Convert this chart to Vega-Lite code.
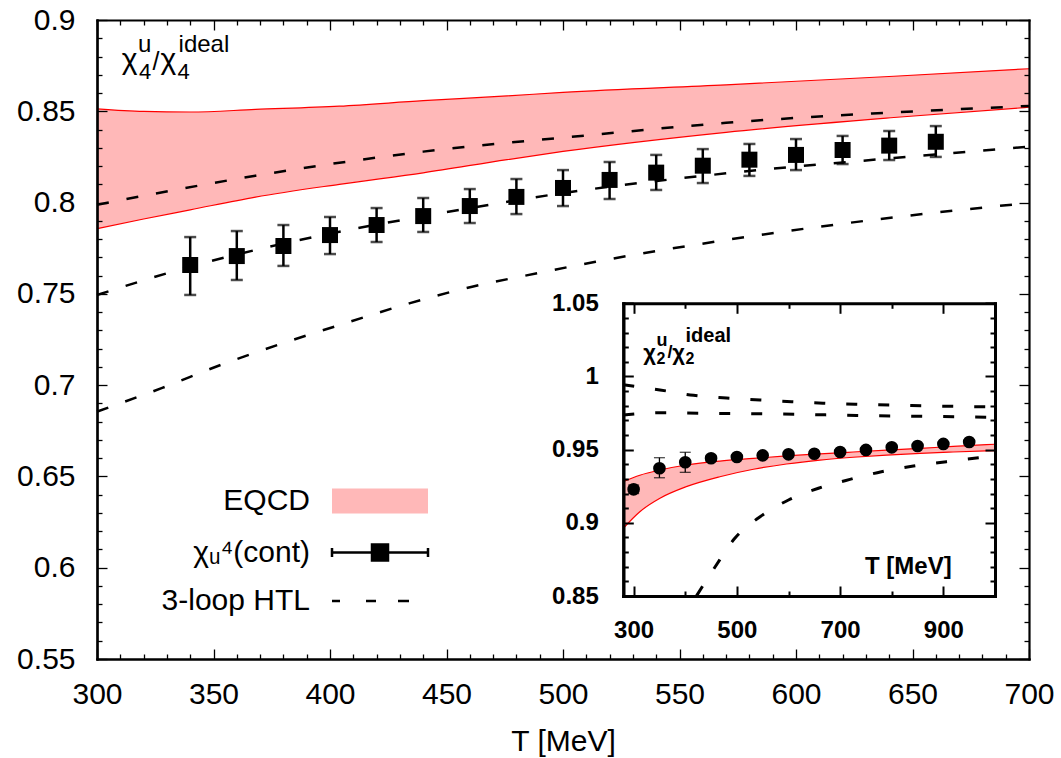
{
  "$schema": "https://vega.github.io/schema/vega-lite/v6.json",
  "width": 932,
  "height": 639,
  "autosize": {"type": "none"},
  "padding": {"left": 97, "top": 20, "right": 32, "bottom": 99},
  "background": "white",
  "config": {"view": {"stroke": null}, "font": "Liberation Sans"},
  "datasets": {
    "eqcd4": [
      {"T": 300, "lo": 0.7857, "hi": 0.8513, "series": "EQCD"},
      {"T": 320, "lo": 0.7910, "hi": 0.8499, "series": "EQCD"},
      {"T": 340, "lo": 0.7960, "hi": 0.8496, "series": "EQCD"},
      {"T": 368, "lo": 0.8030, "hi": 0.8510, "series": "EQCD"},
      {"T": 404, "lo": 0.8100, "hi": 0.8528, "series": "EQCD"},
      {"T": 440, "lo": 0.8163, "hi": 0.8558, "series": "EQCD"},
      {"T": 476, "lo": 0.8235, "hi": 0.8584, "series": "EQCD"},
      {"T": 500, "lo": 0.8280, "hi": 0.8604, "series": "EQCD"},
      {"T": 570, "lo": 0.8385, "hi": 0.8645, "series": "EQCD"},
      {"T": 642, "lo": 0.8466, "hi": 0.8692, "series": "EQCD"},
      {"T": 700, "lo": 0.8522, "hi": 0.8733, "series": "EQCD"}
    ],
    "htl4": [
      {"T": 300, "v": 0.7988, "curve": "a"},
      {"T": 333, "v": 0.8068, "curve": "a"},
      {"T": 368, "v": 0.8147, "curve": "a"},
      {"T": 440, "v": 0.8279, "curve": "a"},
      {"T": 512, "v": 0.8370, "curve": "a"},
      {"T": 570, "v": 0.8437, "curve": "a"},
      {"T": 642, "v": 0.8494, "curve": "a"},
      {"T": 700, "v": 0.8529, "curve": "a"},
      {"T": 300, "v": 0.7494, "curve": "b"},
      {"T": 340, "v": 0.7649, "curve": "b"},
      {"T": 400, "v": 0.7830, "curve": "b"},
      {"T": 440, "v": 0.7925, "curve": "b"},
      {"T": 500, "v": 0.8052, "curve": "b"},
      {"T": 570, "v": 0.8160, "curve": "b"},
      {"T": 642, "v": 0.8244, "curve": "b"},
      {"T": 700, "v": 0.8306, "curve": "b"},
      {"T": 300, "v": 0.6855, "curve": "c"},
      {"T": 328, "v": 0.6985, "curve": "c"},
      {"T": 354, "v": 0.7115, "curve": "c"},
      {"T": 381, "v": 0.7235, "curve": "c"},
      {"T": 408, "v": 0.7345, "curve": "c"},
      {"T": 434, "v": 0.7448, "curve": "c"},
      {"T": 461, "v": 0.7539, "curve": "c"},
      {"T": 489, "v": 0.7613, "curve": "c"},
      {"T": 514, "v": 0.7676, "curve": "c"},
      {"T": 570, "v": 0.7795, "curve": "c"},
      {"T": 642, "v": 0.7919, "curve": "c"},
      {"T": 700, "v": 0.7998, "curve": "c"}
    ],
    "chi4": [
      {"T": 340, "v": 0.7658, "lo": 0.7494, "hi": 0.7811, "series": "χᵤ⁴(cont)"},
      {"T": 360, "v": 0.7707, "lo": 0.7576, "hi": 0.7844, "series": "χᵤ⁴(cont)"},
      {"T": 380, "v": 0.7762, "lo": 0.7653, "hi": 0.7877, "series": "χᵤ⁴(cont)"},
      {"T": 400, "v": 0.7822, "lo": 0.7718, "hi": 0.7921, "series": "χᵤ⁴(cont)"},
      {"T": 420, "v": 0.7877, "lo": 0.7784, "hi": 0.7970, "series": "χᵤ⁴(cont)"},
      {"T": 440, "v": 0.7926, "lo": 0.7839, "hi": 0.8025, "series": "χᵤ⁴(cont)"},
      {"T": 460, "v": 0.7981, "lo": 0.7888, "hi": 0.8074, "series": "χᵤ⁴(cont)"},
      {"T": 480, "v": 0.8031, "lo": 0.7937, "hi": 0.8129, "series": "χᵤ⁴(cont)"},
      {"T": 500, "v": 0.8080, "lo": 0.7981, "hi": 0.8178, "series": "χᵤ⁴(cont)"},
      {"T": 520, "v": 0.8124, "lo": 0.8020, "hi": 0.8222, "series": "χᵤ⁴(cont)"},
      {"T": 540, "v": 0.8164, "lo": 0.8069, "hi": 0.8261, "series": "χᵤ⁴(cont)"},
      {"T": 560, "v": 0.8202, "lo": 0.8107, "hi": 0.8293, "series": "χᵤ⁴(cont)"},
      {"T": 580, "v": 0.8235, "lo": 0.8146, "hi": 0.8321, "series": "χᵤ⁴(cont)"},
      {"T": 600, "v": 0.8261, "lo": 0.8178, "hi": 0.8348, "series": "χᵤ⁴(cont)"},
      {"T": 620, "v": 0.8288, "lo": 0.8211, "hi": 0.8365, "series": "χᵤ⁴(cont)"},
      {"T": 640, "v": 0.8312, "lo": 0.8233, "hi": 0.8392, "series": "χᵤ⁴(cont)"},
      {"T": 660, "v": 0.8333, "lo": 0.8250, "hi": 0.8419, "series": "χᵤ⁴(cont)"}
    ],
    "eqcd2": [
      {"T": 280, "lo": 0.8963, "hi": 0.9281},
      {"T": 312, "lo": 0.9076, "hi": 0.9325},
      {"T": 351, "lo": 0.9168, "hi": 0.9361},
      {"T": 402, "lo": 0.9247, "hi": 0.9395},
      {"T": 467, "lo": 0.9315, "hi": 0.9422},
      {"T": 532, "lo": 0.9366, "hi": 0.9440},
      {"T": 596, "lo": 0.9402, "hi": 0.9457},
      {"T": 661, "lo": 0.9429, "hi": 0.9471},
      {"T": 725, "lo": 0.9448, "hi": 0.9484},
      {"T": 790, "lo": 0.9463, "hi": 0.9497},
      {"T": 855, "lo": 0.9475, "hi": 0.9509},
      {"T": 919, "lo": 0.9484, "hi": 0.9522},
      {"T": 1000, "lo": 0.9493, "hi": 0.9537}
    ],
    "htl2": [
      {"T": 280, "v": 0.9943, "curve": "a"},
      {"T": 351, "v": 0.9908, "curve": "a"},
      {"T": 416, "v": 0.9871, "curve": "a"},
      {"T": 480, "v": 0.9853, "curve": "a"},
      {"T": 545, "v": 0.9839, "curve": "a"},
      {"T": 606, "v": 0.9828, "curve": "a"},
      {"T": 667, "v": 0.9817, "curve": "a"},
      {"T": 732, "v": 0.9810, "curve": "a"},
      {"T": 800, "v": 0.9804, "curve": "a"},
      {"T": 900, "v": 0.9797, "curve": "a"},
      {"T": 1000, "v": 0.9792, "curve": "a"},
      {"T": 280, "v": 0.9736, "curve": "b"},
      {"T": 351, "v": 0.9752, "curve": "b"},
      {"T": 450, "v": 0.9748, "curve": "b"},
      {"T": 543, "v": 0.9745, "curve": "b"},
      {"T": 640, "v": 0.9740, "curve": "b"},
      {"T": 732, "v": 0.9733, "curve": "b"},
      {"T": 850, "v": 0.9728, "curve": "b"},
      {"T": 1000, "v": 0.9721, "curve": "b"},
      {"T": 422, "v": 0.8502, "curve": "c"},
      {"T": 458, "v": 0.8700, "curve": "c"},
      {"T": 496, "v": 0.8894, "curve": "c"},
      {"T": 545, "v": 0.9042, "curve": "c"},
      {"T": 600, "v": 0.9156, "curve": "c"},
      {"T": 658, "v": 0.9236, "curve": "c"},
      {"T": 719, "v": 0.9297, "curve": "c"},
      {"T": 780, "v": 0.9349, "curve": "c"},
      {"T": 842, "v": 0.9388, "curve": "c"},
      {"T": 906, "v": 0.9418, "curve": "c"},
      {"T": 968, "v": 0.9445, "curve": "c"},
      {"T": 1000, "v": 0.9457, "curve": "c"}
    ],
    "chi2": [
      {"T": 300, "v": 0.9229, "lo": 0.9200, "hi": 0.9258},
      {"T": 350, "v": 0.9373, "lo": 0.9308, "hi": 0.9445},
      {"T": 400, "v": 0.9414, "lo": 0.9345, "hi": 0.9482},
      {"T": 450, "v": 0.9441, "lo": 0.9421, "hi": 0.9461},
      {"T": 500, "v": 0.9450, "lo": 0.9435, "hi": 0.9465},
      {"T": 550, "v": 0.9461, "lo": 0.9446, "hi": 0.9476},
      {"T": 600, "v": 0.9468, "lo": 0.9453, "hi": 0.9483},
      {"T": 650, "v": 0.9472, "lo": 0.9457, "hi": 0.9487},
      {"T": 700, "v": 0.9484, "lo": 0.9469, "hi": 0.9499},
      {"T": 750, "v": 0.9498, "lo": 0.9483, "hi": 0.9513},
      {"T": 800, "v": 0.9516, "lo": 0.9501, "hi": 0.9531},
      {"T": 850, "v": 0.9525, "lo": 0.9510, "hi": 0.9540},
      {"T": 900, "v": 0.9539, "lo": 0.9524, "hi": 0.9554},
      {"T": 950, "v": 0.9552, "lo": 0.9537, "hi": 0.9567}
    ]
  },
  "layer": [
    {
      "data": {"name": "eqcd4"},
      "mark": {"type": "area", "interpolate": "monotone", "fillOpacity": 1},
      "encoding": {
        "x": {
          "field": "T", "type": "quantitative",
          "scale": {"domain": [300, 700], "range": [0, 932], "nice": false, "zero": false},
          "axis": {
            "orient": "bottom",
            "values": [300, 350, 400, 450, 500, 550, 600, 650, 700],
            "format": "d",
            "labelFont": "Liberation Sans", "labelFontSize": 30, "labelColor": "black",
            "labelPadding": 20, "labelOverlap": false, "labelFlush": false, "labelBound": false,
            "ticks": false,
            "domainColor": "black", "domainWidth": 2.2, "domainCap": "square",
            "grid": false,
            "title": "T [MeV]", "titleFont": "Liberation Sans", "titleFontSize": 30, "titleFontWeight": "normal", "titleColor": "black", "titlePadding": 17,
            "zindex": 1
          }
        },
        "y": {
          "field": "lo", "type": "quantitative",
          "scale": {"domain": [0.55, 0.9], "range": [639, 0], "nice": false, "zero": false},
          "axis": {
            "orient": "left",
            "values": [0.55, 0.6, 0.65, 0.7, 0.75, 0.8, 0.85, 0.9],
            "format": ".2~f",
            "labelFont": "Liberation Sans", "labelFontSize": 30, "labelColor": "black",
            "labelPadding": 22, "labelOverlap": false, "labelFlush": false, "labelBound": false,
            "ticks": false,
            "domainColor": "black", "domainWidth": 2.2, "domainCap": "square",
            "grid": false, "title": null, "zindex": 1
          }
        },
        "y2": {"field": "hi"},
        "fill": {
          "field": "series", "type": "nominal",
          "scale": {"domain": ["EQCD", "χᵤ⁴(cont)", "3-loop HTL"], "range": ["#ffb8b8", "black", "black"]},
          "legend": {
            "orient": "none", "legendX": 268, "legendY": 466, "title": null,
            "direction": "vertical", "padding": 0,
            "labelFont": "Liberation Sans", "labelFontSize": 30, "labelColor": "black",
            "labelAlign": "right", "labelOffset": -85, "labelLimit": 0,
            "symbolSize": 400, "symbolStrokeWidth": 2.5, "rowPadding": 18.5,
            "encode": {
              "symbols": {
                "update": {
                  "shape": {"signal": "datum.value === 'EQCD' ? 'M-4.8,-1.25H4.8V1.25H-4.8Z' : datum.value === '3-loop HTL' ? 'M-4.8,0H-4.0M-1.4,0H-0.4M1.8,0H2.9' : 'M-4.8,-0.45V0.45M-4.8,0H4.8M4.8,-0.45V0.45M-0.8,-0.8H0.8V0.8H-0.8Z'"},
                  "fill": {"signal": "datum.value === 'EQCD' ? '#ffb8b8' : datum.value === '3-loop HTL' ? 'transparent' : 'black'"},
                  "stroke": {"signal": "datum.value === 'EQCD' ? 'transparent' : 'black'"},
                  "strokeWidth": {"value": 2.5},
                  "opacity": {"value": 1}
                }
              }
            }
          }
        }
      }
    },
    {
      "data": {"name": "eqcd4"},
      "mark": {"type": "line", "color": "#ff0000", "strokeWidth": 1.2, "interpolate": "monotone"},
      "encoding": {
        "x": {"field": "T", "type": "quantitative", "scale": {"domain": [300, 700], "range": [0, 932], "nice": false, "zero": false}, "axis": null},
        "y": {"field": "hi", "type": "quantitative", "scale": {"domain": [0.55, 0.9], "range": [639, 0], "nice": false, "zero": false}, "axis": null}
      }
    },
    {
      "data": {"name": "eqcd4"},
      "mark": {"type": "line", "color": "#ff0000", "strokeWidth": 1.2, "interpolate": "monotone"},
      "encoding": {
        "x": {"field": "T", "type": "quantitative", "scale": {"domain": [300, 700], "range": [0, 932], "nice": false, "zero": false}, "axis": null},
        "y": {"field": "lo", "type": "quantitative", "scale": {"domain": [0.55, 0.9], "range": [639, 0], "nice": false, "zero": false}, "axis": null}
      }
    },
    {
      "data": {"name": "htl4"},
      "mark": {"type": "line", "color": "black", "strokeWidth": 2.5, "strokeDash": [12, 18], "interpolate": "monotone"},
      "encoding": {
        "x": {"field": "T", "type": "quantitative", "scale": {"domain": [300, 700], "range": [0, 932], "nice": false, "zero": false}, "axis": null},
        "y": {"field": "v", "type": "quantitative", "scale": {"domain": [0.55, 0.9], "range": [639, 0], "nice": false, "zero": false}, "axis": null},
        "detail": {"field": "curve", "type": "nominal"}
      }
    },
    {
      "data": {"name": "chi4"},
      "mark": {"type": "rule", "color": "black", "strokeWidth": 2.5},
      "encoding": {
        "x": {"field": "T", "type": "quantitative", "scale": {"domain": [300, 700], "range": [0, 932], "nice": false, "zero": false}, "axis": null},
        "y": {"field": "lo", "type": "quantitative", "scale": {"domain": [0.55, 0.9], "range": [639, 0], "nice": false, "zero": false}, "axis": null},
        "y2": {"field": "hi"}
      }
    },
    {
      "data": {"name": "chi4"},
      "mark": {"type": "tick", "orient": "horizontal", "color": "black", "size": 12, "thickness": 2.5},
      "encoding": {
        "x": {"field": "T", "type": "quantitative", "scale": {"domain": [300, 700], "range": [0, 932], "nice": false, "zero": false}, "axis": null},
        "y": {"field": "lo", "type": "quantitative", "scale": {"domain": [0.55, 0.9], "range": [639, 0], "nice": false, "zero": false}, "axis": null}
      }
    },
    {
      "data": {"name": "chi4"},
      "mark": {"type": "tick", "orient": "horizontal", "color": "black", "size": 12, "thickness": 2.5},
      "encoding": {
        "x": {"field": "T", "type": "quantitative", "scale": {"domain": [300, 700], "range": [0, 932], "nice": false, "zero": false}, "axis": null},
        "y": {"field": "hi", "type": "quantitative", "scale": {"domain": [0.55, 0.9], "range": [639, 0], "nice": false, "zero": false}, "axis": null}
      }
    },
    {
      "data": {"name": "chi4"},
      "mark": {"type": "point", "shape": "square", "size": 256, "filled": true, "opacity": 1, "strokeWidth": 0},
      "encoding": {
        "x": {"field": "T", "type": "quantitative", "scale": {"domain": [300, 700], "range": [0, 932], "nice": false, "zero": false}, "axis": null},
        "y": {"field": "v", "type": "quantitative", "scale": {"domain": [0.55, 0.9], "range": [639, 0], "nice": false, "zero": false}, "axis": null},
        "fill": {"field": "series", "type": "nominal", "legend": null}
      }
    },
    {
      "data": {"name": "chi4"},
      "mark": {"type": "point", "opacity": 0},
      "encoding": {
        "x": {
          "field": "T", "type": "quantitative",
          "scale": {"domain": [300, 700], "range": [0, 932], "nice": false, "zero": false},
          "axis": {
            "orient": "top", "offset": -639,
            "values": [300,310,320,330,340,350,360,370,380,390,400,410,420,430,440,450,460,470,480,490,500,510,520,530,540,550,560,570,580,590,600,610,620,630,640,650,660,670,680,690,700],
            "labels": false,
            "tickSize": 10, "tickWidth": 1.3, "tickColor": "black",
            "tickDash": {"condition": {"test": "datum.value % 50 === 0", "value": []}, "value": [5, 20]},
            "domainColor": "black", "domainWidth": 2.2, "domainCap": "square",
            "grid": false, "title": null, "zindex": 1
          }
        },
        "y": {
          "field": "v", "type": "quantitative",
          "scale": {"domain": [0.55, 0.9], "range": [639, 0], "nice": false, "zero": false},
          "axis": {
            "orient": "right", "offset": -932,
            "values": [0.55,0.56,0.57,0.58,0.59,0.6,0.61,0.62,0.63,0.64,0.65,0.66,0.67,0.68,0.69,0.7,0.71,0.72,0.73,0.74,0.75,0.76,0.77,0.78,0.79,0.8,0.81,0.82,0.83,0.84,0.85,0.86,0.87,0.88,0.89,0.9],
            "labels": false,
            "tickSize": 10, "tickWidth": 1.3, "tickColor": "black",
            "tickDash": {"condition": {"test": "abs(datum.value*20 - round(datum.value*20)) < 0.001", "value": []}, "value": [5, 20]},
            "domainColor": "black", "domainWidth": 2.2, "domainCap": "square",
            "grid": false, "title": null, "zindex": 1
          }
        }
      }
    },
    {
      "data": {"name": "chi4"},
      "mark": {"type": "point", "opacity": 0},
      "encoding": {
        "x": {
          "field": "T", "type": "quantitative",
          "scale": {"domain": [300, 700], "range": [0, 932], "nice": false, "zero": false},
          "axis": {
            "orient": "top",
            "values": [300,310,320,330,340,350,360,370,380,390,400,410,420,430,440,450,460,470,480,490,500,510,520,530,540,550,560,570,580,590,600,610,620,630,640,650,660,670,680,690,700],
            "labels": false,
            "tickSize": -10, "tickWidth": 1.3, "tickColor": "black",
            "tickDash": {"condition": {"test": "datum.value % 50 === 0", "value": []}, "value": [5, 20]},
            "domainColor": "black", "domainWidth": 2.2, "domainCap": "square",
            "grid": false, "title": null, "zindex": 1
          }
        },
        "y": {
          "field": "v", "type": "quantitative",
          "scale": {"domain": [0.55, 0.9], "range": [639, 0], "nice": false, "zero": false},
          "axis": {
            "orient": "right",
            "values": [0.55,0.56,0.57,0.58,0.59,0.6,0.61,0.62,0.63,0.64,0.65,0.66,0.67,0.68,0.69,0.7,0.71,0.72,0.73,0.74,0.75,0.76,0.77,0.78,0.79,0.8,0.81,0.82,0.83,0.84,0.85,0.86,0.87,0.88,0.89,0.9],
            "labels": false,
            "tickSize": -10, "tickWidth": 1.3, "tickColor": "black",
            "tickDash": {"condition": {"test": "abs(datum.value*20 - round(datum.value*20)) < 0.001", "value": []}, "value": [5, 20]},
            "domainColor": "black", "domainWidth": 2.2, "domainCap": "square",
            "grid": false, "title": null, "zindex": 1
          }
        }
      }
    },
    {
      "data": {"values": [{}]},
      "mark": {"type": "text", "text": "χ", "align": "left", "baseline": "alphabetic", "font": "Liberation Sans", "fontSize": 30, "color": "black"},
      "encoding": {
        "x": {"datum": 310.6, "scale": {"domain": [300, 700], "range": [0, 932], "nice": false, "zero": false}, "axis": null},
        "y": {"datum": 0.8732, "scale": {"domain": [0.55, 0.9], "range": [639, 0], "nice": false, "zero": false}, "axis": null}
      }
    },
    {
      "data": {"values": [{}]},
      "mark": {"type": "text", "text": "4", "align": "left", "baseline": "alphabetic", "font": "Liberation Sans", "fontSize": 22, "color": "black"},
      "encoding": {
        "x": {"datum": 318.0, "scale": {"domain": [300, 700], "range": [0, 932], "nice": false, "zero": false}, "axis": null},
        "y": {"datum": 0.8677, "scale": {"domain": [0.55, 0.9], "range": [639, 0], "nice": false, "zero": false}, "axis": null}
      }
    },
    {
      "data": {"values": [{}]},
      "mark": {"type": "text", "text": "u", "align": "left", "baseline": "alphabetic", "font": "Liberation Sans", "fontSize": 24, "color": "black"},
      "encoding": {
        "x": {"datum": 317.6, "scale": {"domain": [300, 700], "range": [0, 932], "nice": false, "zero": false}, "axis": null},
        "y": {"datum": 0.8825, "scale": {"domain": [0.55, 0.9], "range": [639, 0], "nice": false, "zero": false}, "axis": null}
      }
    },
    {
      "data": {"values": [{}]},
      "mark": {"type": "text", "text": "/", "align": "left", "baseline": "alphabetic", "font": "Liberation Sans", "fontSize": 25, "color": "black"},
      "encoding": {
        "x": {"datum": 323.8, "scale": {"domain": [300, 700], "range": [0, 932], "nice": false, "zero": false}, "axis": null},
        "y": {"datum": 0.8726, "scale": {"domain": [0.55, 0.9], "range": [639, 0], "nice": false, "zero": false}, "axis": null}
      }
    },
    {
      "data": {"values": [{}]},
      "mark": {"type": "text", "text": "χ", "align": "left", "baseline": "alphabetic", "font": "Liberation Sans", "fontSize": 30, "color": "black"},
      "encoding": {
        "x": {"datum": 327.2, "scale": {"domain": [300, 700], "range": [0, 932], "nice": false, "zero": false}, "axis": null},
        "y": {"datum": 0.8732, "scale": {"domain": [0.55, 0.9], "range": [639, 0], "nice": false, "zero": false}, "axis": null}
      }
    },
    {
      "data": {"values": [{}]},
      "mark": {"type": "text", "text": "4", "align": "left", "baseline": "alphabetic", "font": "Liberation Sans", "fontSize": 22, "color": "black"},
      "encoding": {
        "x": {"datum": 334.6, "scale": {"domain": [300, 700], "range": [0, 932], "nice": false, "zero": false}, "axis": null},
        "y": {"datum": 0.8677, "scale": {"domain": [0.55, 0.9], "range": [639, 0], "nice": false, "zero": false}, "axis": null}
      }
    },
    {
      "data": {"values": [{}]},
      "mark": {"type": "text", "text": "ideal", "align": "left", "baseline": "alphabetic", "font": "Liberation Sans", "fontSize": 24, "color": "black"},
      "encoding": {
        "x": {"datum": 335.0, "scale": {"domain": [300, 700], "range": [0, 932], "nice": false, "zero": false}, "axis": null},
        "y": {"datum": 0.8825, "scale": {"domain": [0.55, 0.9], "range": [639, 0], "nice": false, "zero": false}, "axis": null}
      }
    },
    {
      "data": {"name": "eqcd2"},
      "mark": {"type": "area", "interpolate": "monotone", "color": "#ffb8b8", "fillOpacity": 1},
      "encoding": {
        "x": {
          "field": "T", "type": "quantitative",
          "scale": {"domain": [280, 1000], "range": [526.3, 898], "nice": false, "zero": false},
          "axis": {
            "orient": "bottom", "offset": -63,
            "values": [300, 500, 700, 900],
            "format": "d",
            "labelFont": "Liberation Sans", "labelFontSize": 24, "labelFontWeight": "bold", "labelColor": "black",
            "labelPadding": 22, "labelOverlap": false, "labelFlush": false, "labelBound": false,
            "ticks": false,
            "domainColor": "black", "domainWidth": 3, "domainCap": "square",
            "grid": false, "title": null, "zindex": 1
          }
        },
        "y": {
          "field": "lo", "type": "quantitative",
          "scale": {"domain": [0.85, 1.05], "range": [576, 283.3], "nice": false, "zero": false},
          "axis": {
            "orient": "left", "offset": -526.3,
            "values": [0.85, 0.9, 0.95, 1, 1.05],
            "format": ".2~f",
            "labelFont": "Liberation Sans", "labelFontSize": 24, "labelFontWeight": "bold", "labelColor": "black",
            "labelPadding": 25, "labelOverlap": false, "labelFlush": false, "labelBound": false,
            "ticks": false,
            "domainColor": "black", "domainWidth": 3, "domainCap": "square",
            "grid": false, "title": null, "zindex": 1
          }
        },
        "y2": {"field": "hi"}
      }
    },
    {
      "data": {"name": "eqcd2"},
      "mark": {"type": "line", "color": "#ff0000", "strokeWidth": 1.2, "interpolate": "monotone"},
      "encoding": {
        "x": {"field": "T", "type": "quantitative", "scale": {"domain": [280, 1000], "range": [526.3, 898], "nice": false, "zero": false}, "axis": null},
        "y": {"field": "hi", "type": "quantitative", "scale": {"domain": [0.85, 1.05], "range": [576, 283.3], "nice": false, "zero": false}, "axis": null}
      }
    },
    {
      "data": {"name": "eqcd2"},
      "mark": {"type": "line", "color": "#ff0000", "strokeWidth": 1.2, "interpolate": "monotone"},
      "encoding": {
        "x": {"field": "T", "type": "quantitative", "scale": {"domain": [280, 1000], "range": [526.3, 898], "nice": false, "zero": false}, "axis": null},
        "y": {"field": "lo", "type": "quantitative", "scale": {"domain": [0.85, 1.05], "range": [576, 283.3], "nice": false, "zero": false}, "axis": null}
      }
    },
    {
      "data": {"name": "htl2"},
      "mark": {"type": "line", "color": "black", "strokeWidth": 3, "strokeDash": [11, 21], "interpolate": "monotone"},
      "encoding": {
        "x": {"field": "T", "type": "quantitative", "scale": {"domain": [280, 1000], "range": [526.3, 898], "nice": false, "zero": false}, "axis": null},
        "y": {"field": "v", "type": "quantitative", "scale": {"domain": [0.85, 1.05], "range": [576, 283.3], "nice": false, "zero": false}, "axis": null},
        "detail": {"field": "curve", "type": "nominal"}
      }
    },
    {
      "data": {"name": "chi2"},
      "mark": {"type": "rule", "color": "black", "strokeWidth": 1.3},
      "encoding": {
        "x": {"field": "T", "type": "quantitative", "scale": {"domain": [280, 1000], "range": [526.3, 898], "nice": false, "zero": false}, "axis": null},
        "y": {"field": "lo", "type": "quantitative", "scale": {"domain": [0.85, 1.05], "range": [576, 283.3], "nice": false, "zero": false}, "axis": null},
        "y2": {"field": "hi"}
      }
    },
    {
      "data": {"name": "chi2"},
      "mark": {"type": "tick", "orient": "horizontal", "color": "black", "size": 11, "thickness": 1.3},
      "encoding": {
        "x": {"field": "T", "type": "quantitative", "scale": {"domain": [280, 1000], "range": [526.3, 898], "nice": false, "zero": false}, "axis": null},
        "y": {"field": "lo", "type": "quantitative", "scale": {"domain": [0.85, 1.05], "range": [576, 283.3], "nice": false, "zero": false}, "axis": null}
      }
    },
    {
      "data": {"name": "chi2"},
      "mark": {"type": "tick", "orient": "horizontal", "color": "black", "size": 11, "thickness": 1.3},
      "encoding": {
        "x": {"field": "T", "type": "quantitative", "scale": {"domain": [280, 1000], "range": [526.3, 898], "nice": false, "zero": false}, "axis": null},
        "y": {"field": "hi", "type": "quantitative", "scale": {"domain": [0.85, 1.05], "range": [576, 283.3], "nice": false, "zero": false}, "axis": null}
      }
    },
    {
      "data": {"name": "chi2"},
      "mark": {"type": "point", "shape": "circle", "size": 160, "filled": true, "color": "black", "opacity": 1},
      "encoding": {
        "x": {"field": "T", "type": "quantitative", "scale": {"domain": [280, 1000], "range": [526.3, 898], "nice": false, "zero": false}, "axis": null},
        "y": {"field": "v", "type": "quantitative", "scale": {"domain": [0.85, 1.05], "range": [576, 283.3], "nice": false, "zero": false}, "axis": null}
      }
    },
    {
      "data": {"name": "chi2"},
      "mark": {"type": "point", "opacity": 0},
      "encoding": {
        "x": {
          "field": "T", "type": "quantitative",
          "scale": {"domain": [280, 1000], "range": [526.3, 898], "nice": false, "zero": false},
          "axis": {
            "orient": "top", "offset": -576,
            "values": [300, 400, 500, 600, 700, 800, 900],
            "labels": false,
            "tickSize": 10, "tickWidth": 2, "tickColor": "black",
            "tickDash": {"condition": {"test": "(datum.value - 300) % 200 === 0", "value": []}, "value": [5, 20]},
            "domainColor": "black", "domainWidth": 3, "domainCap": "square",
            "grid": false, "title": null, "zindex": 1
          }
        },
        "y": {
          "field": "v", "type": "quantitative",
          "scale": {"domain": [0.85, 1.05], "range": [576, 283.3], "nice": false, "zero": false},
          "axis": {
            "orient": "right", "offset": -405.7,
            "values": [0.85,0.86,0.87,0.88,0.89,0.9,0.91,0.92,0.93,0.94,0.95,0.96,0.97,0.98,0.99,1,1.01,1.02,1.03,1.04,1.05],
            "labels": false,
            "tickSize": 10, "tickWidth": 2, "tickColor": "black",
            "tickDash": {"condition": {"test": "abs(datum.value*20 - round(datum.value*20)) < 0.001", "value": []}, "value": [5, 20]},
            "domainColor": "black", "domainWidth": 3, "domainCap": "square",
            "grid": false, "title": null, "zindex": 1
          }
        }
      }
    },
    {
      "data": {"name": "chi2"},
      "mark": {"type": "point", "opacity": 0},
      "encoding": {
        "x": {
          "field": "T", "type": "quantitative",
          "scale": {"domain": [280, 1000], "range": [526.3, 898], "nice": false, "zero": false},
          "axis": {
            "orient": "top", "offset": -283.3,
            "values": [300, 400, 500, 600, 700, 800, 900],
            "labels": false,
            "tickSize": -10, "tickWidth": 2, "tickColor": "black",
            "tickDash": {"condition": {"test": "(datum.value - 300) % 200 === 0", "value": []}, "value": [5, 20]},
            "domainColor": "black", "domainWidth": 3, "domainCap": "square",
            "grid": false, "title": null, "zindex": 1
          }
        },
        "y": {
          "field": "v", "type": "quantitative",
          "scale": {"domain": [0.85, 1.05], "range": [576, 283.3], "nice": false, "zero": false},
          "axis": {
            "orient": "right", "offset": -34,
            "values": [0.85,0.86,0.87,0.88,0.89,0.9,0.91,0.92,0.93,0.94,0.95,0.96,0.97,0.98,0.99,1,1.01,1.02,1.03,1.04,1.05],
            "labels": false,
            "tickSize": -10, "tickWidth": 2, "tickColor": "black",
            "tickDash": {"condition": {"test": "abs(datum.value*20 - round(datum.value*20)) < 0.001", "value": []}, "value": [5, 20]},
            "domainColor": "black", "domainWidth": 3, "domainCap": "square",
            "grid": false, "title": null, "zindex": 1
          }
        }
      }
    },
    {
      "data": {"values": [{}]},
      "mark": {"type": "text", "text": "χ", "align": "left", "baseline": "alphabetic", "font": "Liberation Sans", "fontWeight": "bold", "fontSize": 22, "color": "black"},
      "encoding": {
        "x": {"datum": 318.7, "scale": {"domain": [280, 1000], "range": [526.3, 898], "nice": false, "zero": false}, "axis": null},
        "y": {"datum": 1.0113, "scale": {"domain": [0.85, 1.05], "range": [576, 283.3], "nice": false, "zero": false}, "axis": null}
      }
    },
    {
      "data": {"values": [{}]},
      "mark": {"type": "text", "text": "2", "align": "left", "baseline": "alphabetic", "font": "Liberation Sans", "fontWeight": "bold", "fontSize": 16, "color": "black"},
      "encoding": {
        "x": {"datum": 344.3, "scale": {"domain": [280, 1000], "range": [526.3, 898], "nice": false, "zero": false}, "axis": null},
        "y": {"datum": 1.0085, "scale": {"domain": [0.85, 1.05], "range": [576, 283.3], "nice": false, "zero": false}, "axis": null}
      }
    },
    {
      "data": {"values": [{}]},
      "mark": {"type": "text", "text": "u", "align": "left", "baseline": "alphabetic", "font": "Liberation Sans", "fontWeight": "bold", "fontSize": 18, "color": "black"},
      "encoding": {
        "x": {"datum": 344.3, "scale": {"domain": [280, 1000], "range": [526.3, 898], "nice": false, "zero": false}, "axis": null},
        "y": {"datum": 1.0208, "scale": {"domain": [0.85, 1.05], "range": [576, 283.3], "nice": false, "zero": false}, "axis": null}
      }
    },
    {
      "data": {"values": [{}]},
      "mark": {"type": "text", "text": "/", "align": "left", "baseline": "alphabetic", "font": "Liberation Sans", "fontWeight": "bold", "fontSize": 18, "color": "black"},
      "encoding": {
        "x": {"datum": 365.5, "scale": {"domain": [280, 1000], "range": [526.3, 898], "nice": false, "zero": false}, "axis": null},
        "y": {"datum": 1.0126, "scale": {"domain": [0.85, 1.05], "range": [576, 283.3], "nice": false, "zero": false}, "axis": null}
      }
    },
    {
      "data": {"values": [{}]},
      "mark": {"type": "text", "text": "χ", "align": "left", "baseline": "alphabetic", "font": "Liberation Sans", "fontWeight": "bold", "fontSize": 22, "color": "black"},
      "encoding": {
        "x": {"datum": 375.0, "scale": {"domain": [280, 1000], "range": [526.3, 898], "nice": false, "zero": false}, "axis": null},
        "y": {"datum": 1.0113, "scale": {"domain": [0.85, 1.05], "range": [576, 283.3], "nice": false, "zero": false}, "axis": null}
      }
    },
    {
      "data": {"values": [{}]},
      "mark": {"type": "text", "text": "2", "align": "left", "baseline": "alphabetic", "font": "Liberation Sans", "fontWeight": "bold", "fontSize": 16, "color": "black"},
      "encoding": {
        "x": {"datum": 400.5, "scale": {"domain": [280, 1000], "range": [526.3, 898], "nice": false, "zero": false}, "axis": null},
        "y": {"datum": 1.0085, "scale": {"domain": [0.85, 1.05], "range": [576, 283.3], "nice": false, "zero": false}, "axis": null}
      }
    },
    {
      "data": {"values": [{}]},
      "mark": {"type": "text", "text": "ideal", "align": "left", "baseline": "alphabetic", "font": "Liberation Sans", "fontWeight": "bold", "fontSize": 20, "color": "black"},
      "encoding": {
        "x": {"datum": 400.5, "scale": {"domain": [280, 1000], "range": [526.3, 898], "nice": false, "zero": false}, "axis": null},
        "y": {"datum": 1.0235, "scale": {"domain": [0.85, 1.05], "range": [576, 283.3], "nice": false, "zero": false}, "axis": null}
      }
    },
    {
      "data": {"values": [{}]},
      "mark": {"type": "text", "text": "T [MeV]", "align": "right", "baseline": "alphabetic", "font": "Liberation Sans", "fontWeight": "bold", "fontSize": 24, "color": "black"},
      "encoding": {
        "x": {"datum": 916.1, "scale": {"domain": [280, 1000], "range": [526.3, 898], "nice": false, "zero": false}, "axis": null},
        "y": {"datum": 0.865, "scale": {"domain": [0.85, 1.05], "range": [576, 283.3], "nice": false, "zero": false}, "axis": null}
      }
    }
  ],
  "resolve": {"scale": {"x": "independent", "y": "independent"}}
}
